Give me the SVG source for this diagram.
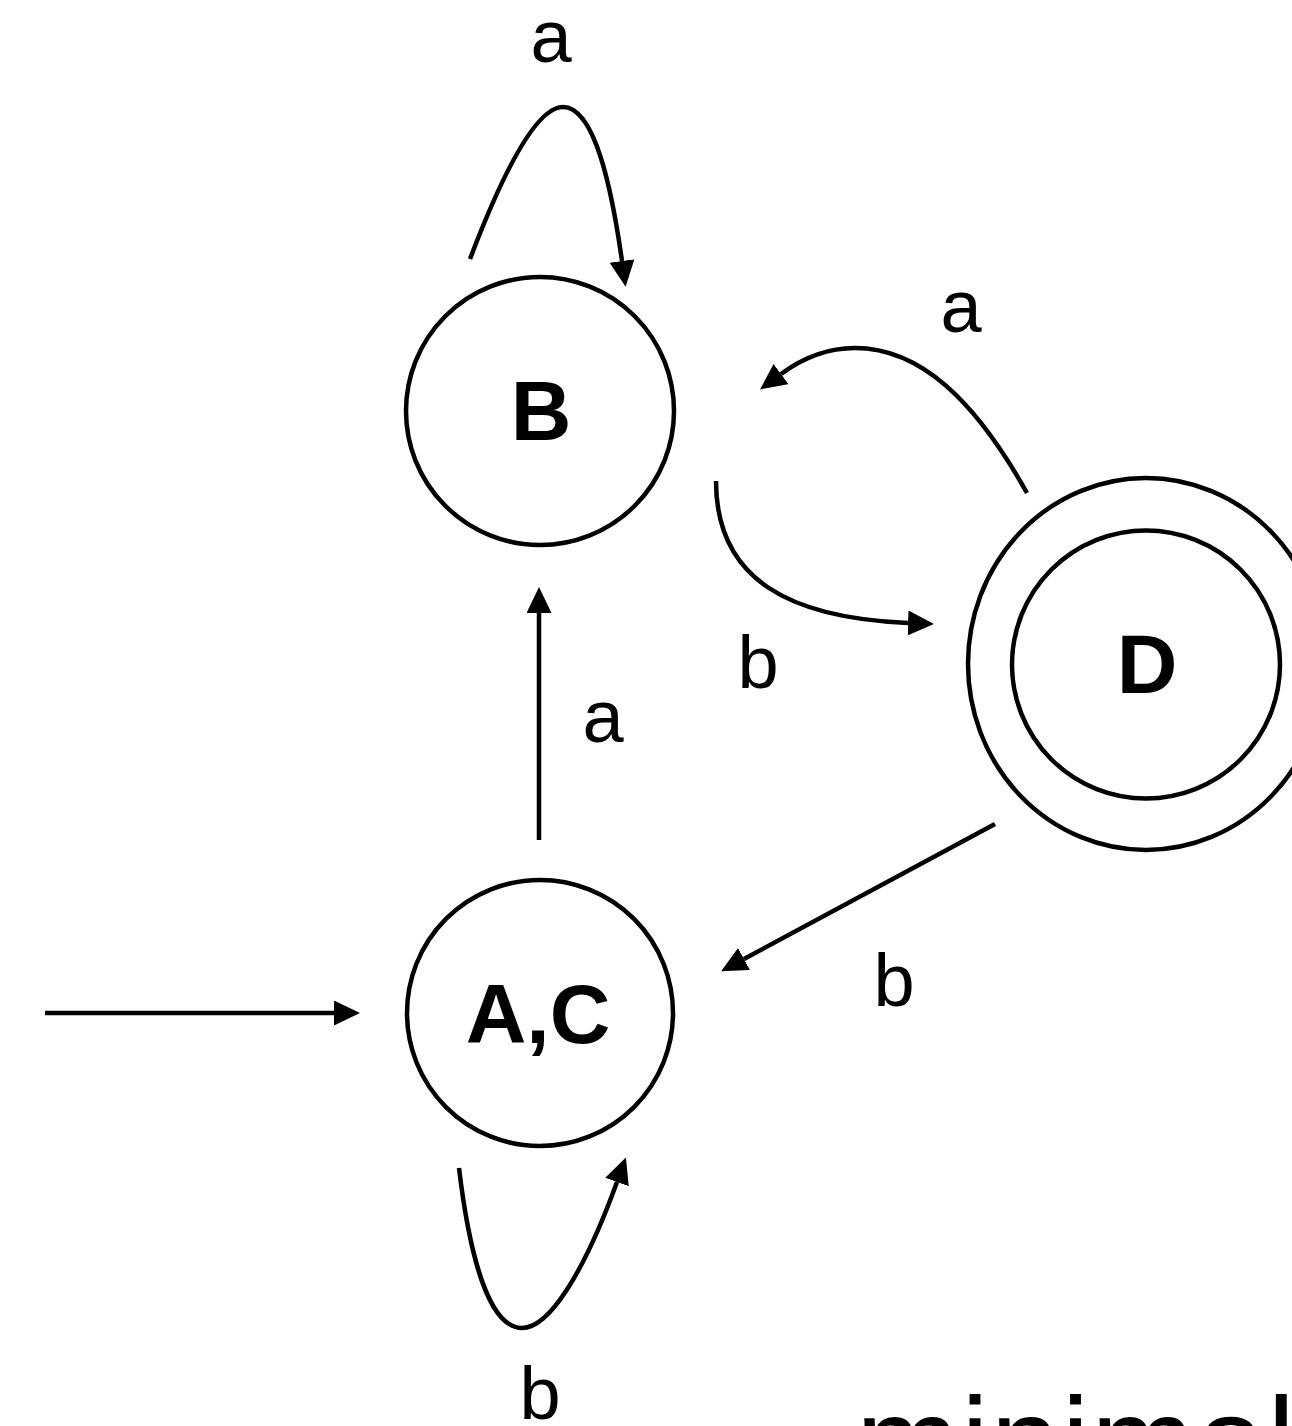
<svg xmlns="http://www.w3.org/2000/svg" width="1292" height="1426" viewBox="0 0 1292 1426">
<style>
.st{fill:none;stroke:#000;stroke-width:4.5}
.node{fill:#fff;stroke:#000;stroke-width:4.5}
.nl{font-family:"Liberation Sans",Arial,sans-serif;font-weight:bold;font-size:84px;text-anchor:middle}
.el{font-family:"Liberation Sans",Arial,sans-serif;font-size:74px;text-anchor:middle}
</style>
<defs>
<marker id="ah" markerUnits="userSpaceOnUse" markerWidth="28" markerHeight="26" refX="0" refY="12.5" orient="auto">
<path d="M0,0 L26,12.5 L0,25 z" fill="#000"/>
</marker>
</defs>
<rect width="1292" height="1426" fill="#fff"/>
<g id="connectors">
<path class="st" d="M470,259 C500,180 535,107 563,107 C595,107 612,190 622,261" marker-end="url(#ah)"/>
<path class="st" d="M1027,493 C975,400 920,348 855,348 C825,348 800,360 781,374" marker-end="url(#ah)"/>
<path class="st" d="M716,481 C716,580 790,618 908,623" marker-end="url(#ah)"/>
<path class="st" d="M539,840 L539,613" marker-end="url(#ah)"/>
<path class="st" d="M995,824 L744,959" marker-end="url(#ah)"/>
<path class="st" d="M45,1013 L334,1013" marker-end="url(#ah)"/>
<path class="st" d="M459,1168 C470,1260 490,1328 522,1328 C550,1328 585,1270 617,1182" marker-end="url(#ah)"/>
</g>
<g id="edge-labels">
<text class="el" x="551" y="62">a</text>
<text class="el" x="961" y="332">a</text>
<text class="el" x="758" y="688">b</text>
<text class="el" x="603" y="742">a</text>
<text class="el" x="894" y="1006">b</text>
<text class="el" x="540" y="1419">b</text>
</g>
<g id="node-B">
<circle class="node" cx="540" cy="411" r="134"/>
<text class="nl" x="541" y="440">B</text>
</g>
<g id="node-AC">
<circle class="node" cx="540" cy="1013" r="133"/>
<text class="nl" x="538" y="1043">A,C</text>
</g>
<g id="node-D">
<ellipse class="node" cx="1146" cy="664" rx="178" ry="186"/>
<circle class="node" cx="1146" cy="664.5" r="134"/>
<text class="nl" x="1147" y="693">D</text>
</g>
<text x="856" y="1484" font-family="'Liberation Sans',Arial,sans-serif" font-size="124" letter-spacing="2">minimal</text>
</svg>
